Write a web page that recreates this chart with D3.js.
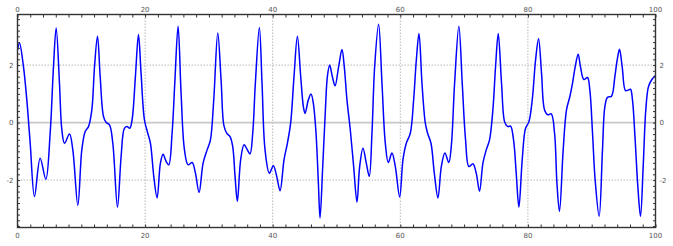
<!DOCTYPE html>
<html>
<head>
<meta charset="utf-8">
<script src="https://cdn.jsdelivr.net/npm/d3@7"></script>
<style>
  html, body { margin: 0; padding: 0; background: #fff; }
  svg { display: block; }
  .lbl { font-family: "DejaVu Sans", sans-serif; font-size: 7px; fill: #555; }
</style>
</head>
<body>
<script>
// signal samples (time, value)
const tValues = [
  0, 0.31, 0.94, 1.46, 1.99, 2.66, 3.55, 4.44, 5.12, 5.64, 6.06, 6.58, 6.95, 7.37, 8.15, 8.67, 9.46,
  10.08, 10.61, 11.13, 11.65, 12.07, 12.54, 12.96, 13.48, 13.9, 14.42, 14.94, 15.67, 16.24, 16.76,
  17.18, 17.6, 17.96, 18.48, 18.96, 19.37, 19.9, 20.42, 20.84, 21.36, 21.88, 22.4, 22.82, 23.29,
  23.71, 24.23, 24.65, 25.17, 25.64, 26.17, 26.74, 27.37, 27.89, 28.46, 29.09, 29.72, 30.24, 30.76,
  31.39, 31.91, 32.35, 32.79, 33.31, 33.73, 34.1, 34.46, 34.98, 35.51, 36.03, 36.45, 36.87, 37.28,
  37.91, 38.33, 38.8, 39.48, 40.1, 40.63, 41.15, 41.78, 42.3, 42.82, 43.34, 43.87, 44.39, 44.81,
  45.07, 45.59, 46.01, 46.37, 46.79, 47.16, 47.42, 47.84, 48.26, 48.57, 48.93, 49.35, 49.78, 50.33,
  50.86, 51.22, 51.64, 52.16, 52.69, 53.21, 53.63, 54.15, 54.67, 55.14, 55.56, 55.98, 56.6, 57.13,
  57.65, 58.12, 58.69, 59.22, 59.9, 60.42, 60.94, 61.57, 62.09, 62.51, 62.93, 63.4, 63.92, 64.28,
  64.81, 65.33, 65.9, 66.43, 66.99, 67.6, 67.99, 68.51, 69.18, 69.71, 70.23, 70.75, 71.38, 71.9,
  72.42, 72.95, 73.47, 73.99, 74.51, 74.93, 75.35, 75.87, 76.39, 76.87, 77.28, 77.75, 78.17, 78.59,
  79.11, 79.63, 80.16, 80.68, 81.2, 81.67, 82.14, 82.61, 83.13, 83.66, 84.18, 84.55, 84.95, 85.53,
  86.05, 86.57, 86.99, 87.41, 87.88, 88.24, 88.77, 89.34, 89.71, 90.13, 90.54, 91.17, 91.69, 92.06,
  92.48, 93.1, 93.63, 93.99, 94.36, 94.78, 95.3, 95.72, 96.08, 96.39, 96.81, 97.23, 97.65, 98.07,
  98.48, 98.9, 99.43, 100
];
const signal = [
  2.52, 2.77, 1.94, 0.79, -0.72, -2.57, -1.24, -1.97, -0.37, 1.94, 3.29, 1.36, -0.25, -0.72, -0.4, -0.95, -2.88,
  -0.95, -0.31, -0.14, 0.44, 1.94, 3.0, 1.6, 0.21, 0, -0.08, -0.72, -2.94, -1.18, -0.2,
  -0.14, -0.2, 0.09, 1.6, 3.06, 1.71, 0.09, -0.37, -0.72, -1.87, -2.62, -1.41, -1.1, -1.35,
  -1.47, -0.37, 1.36, 3.35, 1.02, -0.95, -1.47, -1.39, -1.76, -2.43, -1.41, -0.95, -0.6, 0.79,
  3.12, 1.48, -0.1, -0.37, -0.49, -0.83, -1.87, -2.74, -1.29, -0.77, -0.95, -1.09, -0.37, 1.36,
  3.31, 1.36, -0.95, -1.76, -1.5, -1.87, -2.37, -1.29, -0.72, 0.0, 1.6, 3.0, 1.6, 0.55,
  0.32, 0.79, 0.99, 0.67, -0.37, -2.1, -3.32, -1.53, 0.44, 1.6, 2.0, 1.6, 1.28, 1.94,
  2.54, 1.94, 0.79, -0.25, -1.53, -2.77, -1.53, -0.89, -1.41, -1.87, -0.37, 1.94, 3.42, 1.36,
  -0.72, -1.39, -1.06, -1.53, -2.59, -1.29, -0.72, -0.37, 0.79, 2.17, 3.1, 1.36, -0.02, -0.37,
  -0.72, -1.76, -2.62, -1.53, -1.06, -1.39, -0.83, 1.36, 3.35, 1.36, -0.6, -1.53, -1.43, -1.76,
  -2.39, -1.41, -0.95, -0.6, 0.44, 1.94, 3.1, 1.36, 0, -0.14, -0.12, -0.6, -1.76, -2.94,
  -1.29, -0.2, 0.03, 0.79, 2.17, 2.92, 1.71, 0.44, 0.27, 0.3, -0.37, -2.1, -3.09, -0.95,
  0.44, 0.9, 1.36, 1.94, 2.38, 1.94, 1.5, 1.57, 1.13, -0.37, -1.99, -3.26, -0.95, 0.55,
  0.88, 0.92, 1.6, 2.17, 2.55, 1.94, 1.11, 1.13, 1.16, 0.79, -0.6, -2.22, -3.26, -1.53,
  0.44, 1.25, 1.5, 1.64
];
const xDomain = [0, 100];
const yDomain = [-3.65, 3.76];
const xLabelTicks = [0, 20, 40, 60, 80, 100];
const yLabelTicks = [-2, 0, 2];
const xGridLines = [20, 40, 60, 80];
const yGridLines = [-2, 2];

const width = 673, height = 246;
const margin = { top: 14.5, right: 17.5, bottom: 18.5, left: 17.5 };

const svg = d3.select('body').append('svg')
  .attr('width', width)
  .attr('height', height);

const x = d3.scaleLinear().domain(xDomain).range([margin.left, width - margin.right]);
const y = d3.scaleLinear().domain(yDomain).range([height - margin.bottom, margin.top]);

// grid
svg.append('g')
  .selectAll('line')
  .data(xGridLines)
  .enter()
  .append('line')
  .attr('x1', d => x(d)).attr('x2', d => x(d))
  .attr('y1', y.range()[1]).attr('y2', y.range()[0])
  .attr('stroke', '#b8b8b8')
  .attr('stroke-width', 1)
  .attr('stroke-dasharray', '1.5,1.5');

svg.append('g')
  .selectAll('line')
  .data(yGridLines)
  .enter()
  .append('line')
  .attr('x1', x.range()[0]).attr('x2', x.range()[1])
  .attr('y1', d => y(d)).attr('y2', d => y(d))
  .attr('stroke', '#b8b8b8')
  .attr('stroke-width', 1)
  .attr('stroke-dasharray', '1.5,1.5');

svg.append('line')
  .attr('x1', x.range()[0]).attr('x2', x.range()[1])
  .attr('y1', y(0)).attr('y2', y(0))
  .attr('stroke', '#c8c8c8')
  .attr('stroke-width', 1.6);

// data line
svg.append('clipPath').attr('id', 'clip')
  .append('rect')
  .attr('x', x.range()[0]).attr('y', y.range()[1])
  .attr('width', x.range()[1] - x.range()[0])
  .attr('height', y.range()[0] - y.range()[1]);

const points = tValues.map((t, i) => [t, signal[i]]);
const line = d3.line()
  .x(d => x(d[0]))
  .y(d => y(d[1]))
  .curve(d3.curveCatmullRom.alpha(0.5));

svg.append('path')
  .datum(points)
  .attr('clip-path', 'url(#clip)')
  .attr('fill', 'none')
  .attr('stroke', '#0000ff')
  .attr('stroke-width', 1.5)
  .attr('stroke-linejoin', 'round')
  .attr('d', line);

// minor ticks, pointing inward
const xMinor = d3.range(0, 101, 2);
const yMinor = d3.range(-36, 37, 2).map(v => v / 10);

const styleAxis = g => {
  g.select('.domain').remove();
  g.selectAll('.tick line').attr('stroke', '#333').attr('stroke-width', 1);
};

svg.append('g')
  .attr('transform', `translate(0,${y.range()[0]})`)
  .call(d3.axisBottom(x).tickValues(xMinor).tickSize(-3).tickFormat(''))
  .call(styleAxis);
svg.append('g')
  .attr('transform', `translate(0,${y.range()[1]})`)
  .call(d3.axisTop(x).tickValues(xMinor).tickSize(-3).tickFormat(''))
  .call(styleAxis);
svg.append('g')
  .attr('transform', `translate(${x.range()[0]},0)`)
  .call(d3.axisLeft(y).tickValues(yMinor).tickSize(-2.5).tickFormat(''))
  .call(styleAxis);
svg.append('g')
  .attr('transform', `translate(${x.range()[1]},0)`)
  .call(d3.axisRight(y).tickValues(yMinor).tickSize(-2.5).tickFormat(''))
  .call(styleAxis);

// frame
svg.append('rect')
  .attr('x', x.range()[0]).attr('y', y.range()[1])
  .attr('width', x.range()[1] - x.range()[0])
  .attr('height', y.range()[0] - y.range()[1])
  .attr('fill', 'none')
  .attr('stroke', '#333')
  .attr('stroke-width', 1.4);

// labels
const labels = svg.append('g');
labels.selectAll('.xb')
  .data(xLabelTicks).enter().append('text')
  .attr('class', 'lbl')
  .attr('x', d => x(d)).attr('y', height - 8.5)
  .attr('text-anchor', 'middle')
  .text(d => d);
labels.selectAll('.xt')
  .data(xLabelTicks).enter().append('text')
  .attr('class', 'lbl')
  .attr('x', d => x(d)).attr('y', 12)
  .attr('text-anchor', 'middle')
  .text(d => d);
labels.selectAll('.yl')
  .data(yLabelTicks).enter().append('text')
  .attr('class', 'lbl')
  .attr('x', x.range()[0] - 4).attr('y', d => y(d) + 2.5)
  .attr('text-anchor', 'end')
  .text(d => d);
labels.selectAll('.yr')
  .data(yLabelTicks).enter().append('text')
  .attr('class', 'lbl')
  .attr('x', x.range()[1] + 4).attr('y', d => y(d) + 2.5)
  .attr('text-anchor', 'start')
  .text(d => d);
</script>
</body>
</html>
